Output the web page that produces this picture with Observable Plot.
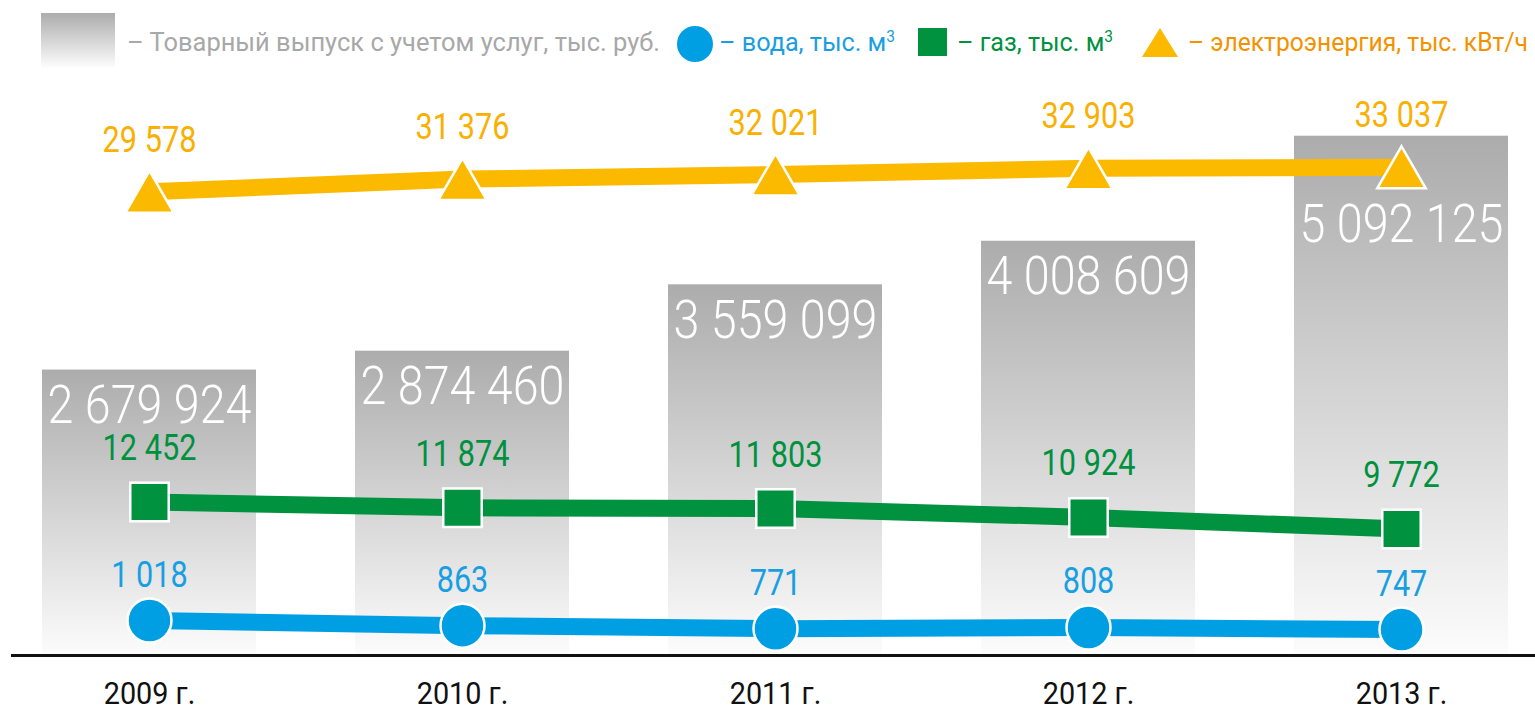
<!DOCTYPE html>
<html><head><meta charset="utf-8">
<script src="https://cdn.jsdelivr.net/npm/d3@7"></script>
<script src="https://cdn.jsdelivr.net/npm/@observablehq/plot@0.6"></script>
<style>
body{margin:0;background:#fff;font-family:Roboto,"Liberation Sans",sans-serif;}
#legend{display:block;}
#chart{position:relative;width:1535px;height:630px;}
#chart svg{position:absolute;left:0;top:0;}
</style></head><body>
<div id="legend"></div>
<div id="chart"></div>
<script>
// ---- data ----
const years = [2009, 2010, 2011, 2012, 2013];
const yearLabels = ["2009 г.", "2010 г.", "2011 г.", "2012 г.", "2013 г."];
const output = [2679924, 2874460, 3559099, 4008609, 5092125];   // Товарный выпуск с учетом услуг, тыс. руб.
const water = [1018, 863, 771, 808, 747];                        // вода, тыс. м3
const gas = [12452, 11874, 11803, 10924, 9772];                  // газ, тыс. м3
const power = [29578, 31376, 32021, 32903, 33037];               // электроэнергия, тыс. кВт/ч

const rows = years.map((year, i) => ({year, label: yearLabels[i], output: output[i], water: water[i], gas: gas[i], power: power[i]}));
const fmt = d3.formatLocale({decimal: ",", thousands: " ", grouping: [3], currency: ["", ""]}).format(",d");

const FONT = "Roboto,'Liberation Sans',sans-serif";
const W = 1535, H = 630, MB = 55;
const xOpts = {type: "band", domain: years, range: [-8.75, 1558.75], paddingInner: 0.3174, paddingOuter: 0.1587};
const base = {width: W, height: H, marginTop: 0, marginBottom: MB, marginLeft: 12, marginRight: 0,
  style: {background: "transparent", fontFamily: FONT, overflow: "visible"}};

const C = {blue: "#009fe3", blueText: "#1a9ee2", green: "#00923f", greenText: "#00913f", orange: "#fbb900", orangeText: "#f9b000", gray: "#a8a8a8", legOrange: "#f39200"};

// condensed look: squeeze glyphs horizontally
function squeeze(node, factor) {
  const len = node.getComputedTextLength();
  node.setAttribute("textLength", (len * factor).toFixed(1));
  node.setAttribute("lengthAdjust", "spacingAndGlyphs");
}
function fitTo(node, width) {
  node.setAttribute("textLength", width);
  node.setAttribute("lengthAdjust", "spacingAndGlyphs");
}

// ---- legend ----
const leg = d3.select("#legend").append("svg").attr("width", W).attr("height", 80).style("display", "block");
const lg = leg.append("defs").append("linearGradient").attr("id", "legGrad").attr("x1", 0).attr("y1", 0).attr("x2", 0).attr("y2", 1);
lg.append("stop").attr("offset", "0%").attr("stop-color", "#acacac");
lg.append("stop").attr("offset", "100%").attr("stop-color", "#ffffff");
leg.append("rect").attr("x", 41).attr("y", 13).attr("width", 74).attr("height", 56).attr("fill", "url(#legGrad)");
function legText(x, width, color, txt, sup) {
  const t = leg.append("text").attr("x", x).attr("y", 51).attr("fill", color).style("font-family", FONT).style("font-size", "26px").text(txt);
  if (sup) t.append("tspan").attr("dy", -9).style("font-size", "16px").text(sup);
  fitTo(t.node(), width);
}
legText(127, 533, C.gray, "– Товарный выпуск с учетом услуг, тыс. руб.");
leg.append("circle").attr("cx", 695).attr("cy", 44).attr("r", 18).attr("fill", C.blue);
legText(719, 176, C.blueText, "– вода, тыс. м", "3");
leg.append("rect").attr("x", 918).attr("y", 28).attr("width", 29).attr("height", 28).attr("fill", C.green);
legText(957, 156, C.greenText, "– газ, тыс. м", "3");
leg.append("path").attr("d", "M1160,28L1178,57L1142,57Z").attr("fill", C.orange);
legText(1188, 340, C.legOrange, "– электроэнергия, тыс. кВт/ч");

// ---- bars ----
const barDomain = [-264700, 5666800];
const gradMark = () => {
  const defs = d3.create("svg:defs");
  const g = defs.append("linearGradient").attr("id", "barGrad").attr("x1", 0).attr("y1", 0).attr("x2", 0).attr("y2", 1);
  g.append("stop").attr("offset", "0%").attr("stop-color", "#acacac");
  g.append("stop").attr("offset", "100%").attr("stop-color", "#fcfcfc");
  return defs.node();
};
const chart = document.getElementById("chart");
const barPlot = Plot.plot({
  ...base,
  x: xOpts,
  y: {domain: barDomain, axis: null},
  marks: [
    gradMark,
    Plot.barY(rows, {x: "year", y1: () => barDomain[0], y2: "output", fill: "url(#barGrad)"}),
    Plot.text(rows.filter(d => d.year !== 2013), {x: "year", y: "output", text: d => fmt(d.output), fill: "white", fontSize: 53, fontWeight: 300, lineAnchor: "bottom", dy: 53, className: "bigval"}),
    Plot.text(rows.filter(d => d.year === 2013), {x: "year", y: "output", text: d => fmt(d.output), fill: "white", fontSize: 53, fontWeight: 300, lineAnchor: "bottom", dy: 106, className: "bigval"}),
    Plot.frame({anchor: "bottom", stroke: "#111", strokeWidth: 3}),
    Plot.axisX({tickSize: 0, tickPadding: 26, fontSize: 32, fill: "#111", label: null, className: "years", tickFormat: d => yearLabels[years.indexOf(d)]})
  ]
});
chart.append(barPlot);
barPlot.querySelectorAll(".bigval text").forEach(n => squeeze(n, 0.88));
barPlot.querySelectorAll(".years text").forEach(n => squeeze(n, 0.9));

function overlay(key, domain, color, textColor, symbol, r, symDy, labelDy) {
  const p = Plot.plot({
    ...base,
    x: {...xOpts, axis: null},
    y: {domain, axis: null},
    marks: [
      Plot.line(rows, {x: "year", y: key, stroke: color, strokeWidth: 17}),
      Plot.dot(rows, {x: "year", y: key, symbol, r, fill: color, stroke: "white", strokeWidth: 2.5, dy: symDy}),
      Plot.text(rows, {x: "year", y: key, text: d => fmt(d[key]), fill: textColor, fontSize: 36.5, lineAnchor: "bottom", dy: labelDy, className: "val"})
    ]
  });
  chart.append(p);
  p.querySelectorAll(".val text").forEach(n => squeeze(n, 0.84));
}
overlay("power", [-35900, 45300], C.orange, C.orangeText, "triangle", 18, 7, -40);
overlay("gas", [-2790, 54310], C.green, C.greenText, "square", 21.7, 0, -42);
overlay("water", [-36, 17283], C.blue, C.blueText, "circle", 22, 0, -34);
</script>
</body></html>
